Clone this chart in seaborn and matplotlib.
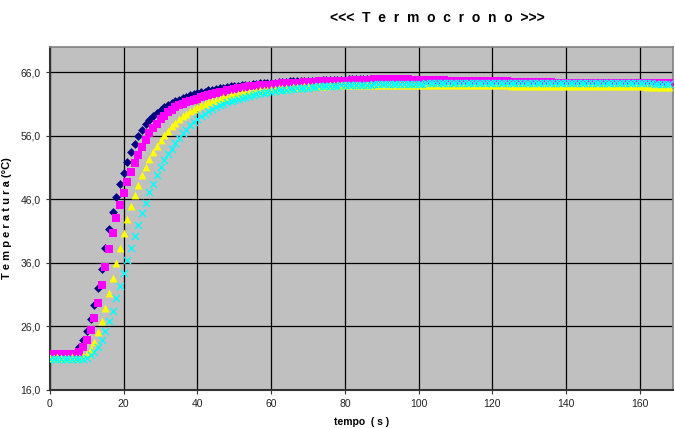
import numpy as np
import pandas as pd
import matplotlib
matplotlib.use('Agg')
import matplotlib.pyplot as plt
import seaborn as sns

# Termocrono readings, one sample per second (°C)
serie_blu = [
    21.5, 21.5, 21.6, 21.5, 21.5, 21.5, 21.6, 21.9, 22.7, 23.8,
    25.3, 27.2, 29.4, 32.0, 35.0, 38.3, 41.4, 44.1, 46.4, 48.4,
    50.2, 51.9, 53.4, 54.8, 56.0, 57.0, 57.9, 58.5, 59.1, 59.6,
    60.1, 60.5, 60.8, 61.2, 61.5, 61.7, 62.0, 62.2, 62.4, 62.6,
    62.7, 62.9, 63.0, 63.2, 63.3, 63.4, 63.5, 63.6, 63.7, 63.8,
    63.9, 63.9, 64.0, 64.1, 64.1, 64.2, 64.2, 64.3, 64.3, 64.4,
    64.4, 64.4, 64.5, 64.5, 64.5, 64.6, 64.6, 64.6, 64.6, 64.7,
    64.7, 64.7, 64.7, 64.7, 64.8, 64.8, 64.8, 64.8, 64.8, 64.8,
    64.8, 64.9, 64.9, 64.9, 64.9, 64.9, 64.9, 64.9, 64.9, 64.9,
    64.9, 64.9, 64.9, 64.9, 64.9, 64.9, 64.9, 64.8, 64.8, 64.8,
    64.8, 64.8, 64.8, 64.8, 64.8, 64.8, 64.8, 64.7, 64.7, 64.7,
    64.7, 64.7, 64.7, 64.7, 64.7, 64.6, 64.6, 64.6, 64.6, 64.6,
    64.6, 64.6, 64.6, 64.6, 64.5, 64.5, 64.5, 64.5, 64.5, 64.5,
    64.5, 64.5, 64.5, 64.5, 64.5, 64.5, 64.4, 64.4, 64.4, 64.4,
    64.4, 64.4, 64.4, 64.4, 64.4, 64.4, 64.4, 64.4, 64.4, 64.4,
    64.4, 64.3, 64.3, 64.3, 64.3, 64.3, 64.3, 64.3, 64.3, 64.3,
    64.3, 64.3, 64.3, 64.3, 64.3, 64.3, 64.3, 64.2, 64.2,
]
serie_magenta = [
    21.6, 21.6, 21.7, 21.6, 21.6, 21.6, 21.7, 21.6, 22.0, 22.7,
    23.9, 25.4, 27.3, 29.7, 32.5, 35.4, 38.2, 40.7, 43.0, 45.1,
    47.0, 48.8, 50.3, 51.7, 53.0, 54.2, 55.4, 56.4, 57.2, 57.9,
    58.6, 59.2, 59.7, 60.1, 60.5, 60.8, 61.1, 61.3, 61.5, 61.7,
    61.9, 62.1, 62.3, 62.5, 62.6, 62.8, 62.9, 63.0, 63.2, 63.3,
    63.4, 63.5, 63.6, 63.7, 63.8, 63.8, 63.9, 64.0, 64.0, 64.1,
    64.1, 64.2, 64.2, 64.3, 64.3, 64.3, 64.4, 64.4, 64.4, 64.5,
    64.5, 64.5, 64.5, 64.6, 64.6, 64.6, 64.6, 64.7, 64.7, 64.7,
    64.7, 64.7, 64.8, 64.8, 64.8, 64.8, 64.8, 64.8, 64.9, 64.9,
    64.9, 64.9, 64.9, 64.9, 64.9, 64.9, 64.9, 64.9, 64.8, 64.8,
    64.8, 64.8, 64.8, 64.8, 64.8, 64.8, 64.8, 64.8, 64.7, 64.7,
    64.7, 64.7, 64.7, 64.7, 64.7, 64.7, 64.6, 64.6, 64.6, 64.6,
    64.6, 64.6, 64.6, 64.6, 64.6, 64.5, 64.5, 64.5, 64.5, 64.5,
    64.5, 64.5, 64.5, 64.5, 64.5, 64.5, 64.5, 64.4, 64.4, 64.4,
    64.4, 64.4, 64.4, 64.4, 64.4, 64.4, 64.4, 64.4, 64.4, 64.4,
    64.4, 64.4, 64.3, 64.3, 64.3, 64.3, 64.3, 64.3, 64.3, 64.3,
    64.3, 64.3, 64.3, 64.3, 64.3, 64.3, 64.4, 64.4, 64.4,
]
serie_gialla = [
    21.1, 21.1, 21.2, 21.1, 21.1, 21.1, 21.2, 21.1, 21.1, 21.3,
    21.7, 22.4, 23.6, 25.1, 26.9, 28.9, 31.2, 33.6, 36.0, 38.4,
    40.7, 42.9, 44.9, 46.7, 48.3, 49.8, 51.1, 52.3, 53.4, 54.4,
    55.3, 56.1, 56.8, 57.5, 58.1, 58.6, 59.1, 59.5, 59.9, 60.2,
    60.5, 60.8, 61.1, 61.3, 61.5, 61.7, 61.9, 62.1, 62.2, 62.4,
    62.5, 62.6, 62.7, 62.8, 62.9, 63.0, 63.1, 63.2, 63.2, 63.3,
    63.4, 63.4, 63.5, 63.5, 63.6, 63.6, 63.7, 63.7, 63.7, 63.8,
    63.8, 63.8, 63.9, 63.9, 63.9, 63.9, 64.0, 64.0, 64.0, 64.0,
    64.0, 64.0, 64.1, 64.1, 64.1, 64.1, 64.1, 64.1, 64.1, 64.1,
    64.1, 64.1, 64.1, 64.1, 64.1, 64.1, 64.1, 64.1, 64.1, 64.1,
    64.1, 64.1, 64.1, 64.1, 64.1, 64.0, 64.0, 64.0, 64.0, 64.0,
    64.0, 64.0, 64.0, 64.0, 64.0, 64.0, 64.0, 64.0, 64.0, 64.0,
    64.0, 64.0, 64.0, 64.0, 64.0, 63.9, 63.9, 63.9, 63.9, 63.9,
    63.9, 63.9, 63.9, 63.9, 63.9, 63.9, 63.9, 63.9, 63.9, 63.9,
    63.9, 63.9, 63.8, 63.8, 63.8, 63.8, 63.8, 63.8, 63.8, 63.8,
    63.8, 63.8, 63.8, 63.8, 63.8, 63.8, 63.8, 63.8, 63.8, 63.8,
    63.8, 63.8, 63.7, 63.7, 63.7, 63.7, 63.7, 63.7, 63.7,
]
serie_ciano = [
    20.8, 20.8, 20.9, 20.8, 20.8, 20.8, 20.9, 20.8, 20.8, 20.9,
    21.1, 21.5, 22.0, 22.7, 23.9, 25.3, 26.8, 28.5, 30.4, 32.4,
    34.4, 36.5, 38.4, 40.3, 42.0, 43.9, 45.5, 47.1, 48.5, 49.8,
    51.1, 52.2, 53.2, 54.0, 54.9, 55.7, 56.4, 57.0, 57.7, 58.2,
    58.7, 59.1, 59.5, 59.9, 60.2, 60.5, 60.8, 61.1, 61.3, 61.5,
    61.7, 61.9, 62.0, 62.2, 62.3, 62.5, 62.6, 62.7, 62.8, 62.9,
    63.0, 63.1, 63.2, 63.2, 63.3, 63.4, 63.4, 63.5, 63.5, 63.6,
    63.6, 63.7, 63.7, 63.8, 63.8, 63.8, 63.9, 63.9, 63.9, 64.0,
    64.0, 64.0, 64.0, 64.1, 64.1, 64.1, 64.1, 64.1, 64.2, 64.2,
    64.2, 64.2, 64.2, 64.2, 64.2, 64.2, 64.2, 64.2, 64.2, 64.2,
    64.2, 64.2, 64.3, 64.3, 64.3, 64.3, 64.3, 64.3, 64.3, 64.3,
    64.3, 64.3, 64.3, 64.3, 64.3, 64.3, 64.3, 64.3, 64.3, 64.3,
    64.3, 64.3, 64.3, 64.3, 64.3, 64.3, 64.3, 64.3, 64.3, 64.3,
    64.3, 64.3, 64.3, 64.3, 64.3, 64.3, 64.3, 64.3, 64.3, 64.3,
    64.3, 64.3, 64.3, 64.3, 64.3, 64.3, 64.3, 64.3, 64.3, 64.3,
    64.3, 64.3, 64.3, 64.3, 64.3, 64.3, 64.3, 64.3, 64.3, 64.3,
    64.3, 64.3, 64.3, 64.3, 64.2, 64.2, 64.2, 64.2, 64.2,
]

y_ticks = [16, 26, 36, 46, 56, 66]
x_ticks = [0, 20, 40, 60, 80, 100, 120, 140, 160]

plt.rcParams['font.family'] = ['Liberation Sans', 'DejaVu Sans']

fig = plt.figure(figsize=(6.75, 4.28), dpi=100)
ax = fig.add_axes([0.074, 0.089, 0.923, 0.801])
ax.set_facecolor('#C0C0C0')

# draw order: navy, magenta, yellow, cyan (cyan ends up on top)
serie = [
    (serie_blu, 'D', '#000080', 20, 0),
    (serie_magenta, 's', '#FF00FF', 26, 0),
    (serie_gialla, '^', '#FFFF00', 32, 0),
    (serie_ciano, 'x', '#00FFFF', 26, 1.0),
]
for valori, marker, colore, size, lw in serie:
    df = pd.DataFrame({'tempo': np.arange(len(valori)), 'temp': valori})
    sns.scatterplot(data=df, x='tempo', y='temp', ax=ax, marker=marker,
                    color=colore, s=size, linewidth=lw, edgecolor=colore if lw else None,
                    zorder=3, legend=False)

ax.set_xlim(0, 169)
ax.set_ylim(16, 70)
ax.set_xticks(x_ticks)
ax.set_yticks(y_ticks)
ax.set_yticklabels([f'{v:.1f}'.replace('.', ',') for v in y_ticks])
ax.grid(True, color='black', linewidth=0.9)
ax.set_axisbelow(True)
ax.tick_params(labelsize=7.5, length=3, width=0.8, colors='#333333', labelcolor='#222222')

for s in ['top', 'right']:
    ax.spines[s].set_color('#808080')
    ax.spines[s].set_linewidth(1.2)
for s in ['left', 'bottom']:
    ax.spines[s].set_color('#333333')
    ax.spines[s].set_linewidth(1.5)

ax.set_xlabel('tempo  ( s )', fontsize=7.5, fontweight='bold', labelpad=6)
ax.set_ylabel('T e m p e r a t u r a (°C)', fontsize=8, fontweight='bold', labelpad=6)
fig.text(0.648, 0.958, '<<<  T  e  r  m  o  c  r  o  n  o  >>>', ha='center', va='center',
         fontsize=10, fontweight='bold')

fig.savefig('out.png', dpi=100)
